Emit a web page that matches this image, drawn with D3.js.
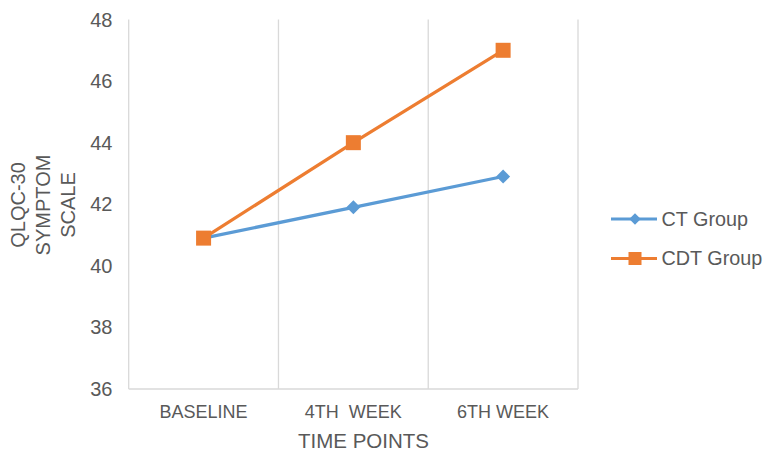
<!DOCTYPE html>
<html><head><meta charset="utf-8">
<script src="https://cdn.jsdelivr.net/npm/d3@7"></script>
<style>
html,body{margin:0;padding:0;background:#fff;}
text{font-family:"Liberation Sans",Arial,Helvetica,sans-serif;fill:#595959;}
</style></head>
<body>
<svg id="chart" width="765" height="451"></svg>
<script>
const categories = ["BASELINE", "4TH  WEEK", "6TH WEEK"];
const ctGroup = [40.9, 41.9, 42.9];
const cdtGroup = [40.9, 44.0, 47.0];
const seriesNames = ["CT Group", "CDT Group"];
const yTicks = [36, 38, 40, 42, 44, 46, 48];
const yTitle = ["QLQC-30", "SYMPTOM", "SCALE"];
const xTitle = "TIME POINTS";

(function () {
const svg = d3.select("#chart");
const pLeft = 128.7, pRight = 578, pTop = 19.5, pBottom = 389;
const x = d3.scaleBand().domain(categories).range([pLeft, pRight]).padding(0);
const y = d3.scaleLinear().domain([36, 48]).range([pBottom, pTop]);
const cx = c => x(c) + x.bandwidth() / 2;

// vertical gridlines at band boundaries
const bounds = categories.map(c => x(c)).concat([pRight]);
svg.append("g").selectAll("line").data(bounds).join("line")
  .attr("x1", d => d).attr("x2", d => d).attr("y1", pTop).attr("y2", pBottom)
  .attr("stroke", "#d9d9d9").attr("stroke-width", 1.3);
// bottom axis line
svg.append("line").attr("x1", pLeft).attr("x2", pRight).attr("y1", pBottom).attr("y2", pBottom)
  .attr("stroke", "#d9d9d9").attr("stroke-width", 1.3);

// y tick labels
svg.append("g").selectAll("text").data(yTicks).join("text")
  .attr("x", 112.5).attr("y", d => y(d)).attr("dy", "0.35em")
  .attr("text-anchor", "end").attr("font-size", 20).text(d => d);

// x tick labels
svg.append("g").selectAll("text").data(categories).join("text")
  .attr("x", d => cx(d)).attr("y", 418).attr("text-anchor", "middle")
  .attr("font-size", 18).style("white-space", "pre").text(d => d);

// x title
svg.append("text").attr("x", 363.5).attr("y", 448)
  .attr("text-anchor", "middle").attr("font-size", 20.5).text(xTitle);

// y title
const yt = svg.append("text").attr("transform", "translate(43,205) rotate(-90)")
  .attr("text-anchor", "middle").attr("font-size", 20);
yTitle.forEach((t, i) => {
  yt.append("tspan").attr("x", 0).attr("y", (i - 1) * 24.8).attr("dy", "0.35em").text(t);
});

const line = d3.line().x((d, i) => cx(categories[i])).y(d => y(d));
const blue = "#5b9bd5", orange = "#ed7d31";

svg.append("path").datum(ctGroup).attr("d", line).attr("fill", "none")
  .attr("stroke", blue).attr("stroke-width", 3.2).attr("stroke-linejoin", "round");
svg.append("path").datum(cdtGroup).attr("d", line).attr("fill", "none")
  .attr("stroke", orange).attr("stroke-width", 3.2).attr("stroke-linejoin", "round");

const diamond = s => `M0,${-s/2}L${s/2},0L0,${s/2}L${-s/2},0Z`;
svg.append("g").selectAll("path").data(ctGroup).join("path")
  .attr("transform", (d, i) => `translate(${cx(categories[i])},${y(d)})`)
  .attr("d", diamond(14)).attr("fill", blue);
svg.append("g").selectAll("rect").data(cdtGroup).join("rect")
  .attr("x", (d, i) => cx(categories[i]) - 7.5).attr("y", d => y(d) - 7.5)
  .attr("width", 15).attr("height", 15).attr("fill", orange);

// legend
const leg = [{name: seriesNames[0], color: blue, y: 219}, {name: seriesNames[1], color: orange, y: 258.5}];
const lg = svg.append("g").selectAll("g").data(leg).join("g")
  .attr("transform", d => `translate(611,${d.y})`);
lg.append("line").attr("x1", 0).attr("x2", 46).attr("stroke", d => d.color).attr("stroke-width", 3.2);
lg.filter((d, i) => i === 0).append("path").attr("transform", "translate(24,0)").attr("d", diamond(11.5)).attr("fill", blue);
lg.filter((d, i) => i === 1).append("rect").attr("x", 24 - 6.5).attr("y", -6.5).attr("width", 13).attr("height", 13).attr("fill", orange);
lg.append("text").attr("x", 50.5).attr("dy", "0.35em").attr("font-size", 19.8).text(d => d.name);
})();
</script>
</body></html>
